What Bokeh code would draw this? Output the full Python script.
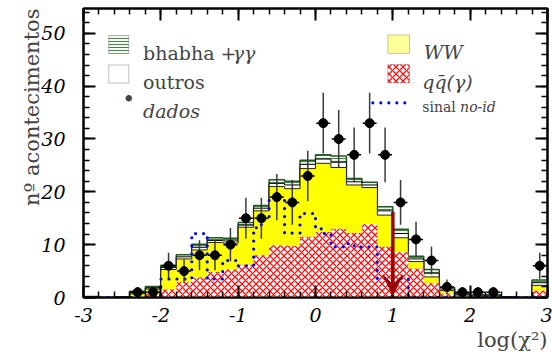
import numpy as np
from bokeh.plotting import figure
from bokeh.models import (Range1d, LinearAxis, FixedTicker, Label, Arrow, VeeHead,
                          CustomJSTickFormatter, BoxAnnotation, Title)
from bokeh.embed import file_html
from bokeh.resources import INLINE

# ---- data ----
centros = [-2.9, -2.7, -2.5, -2.3, -2.1, -1.9, -1.7, -1.5, -1.3, -1.1,
           -0.9, -0.7, -0.5, -0.3, -0.1, 0.1, 0.3, 0.5, 0.7, 0.9,
           1.1, 1.3, 1.5, 1.7, 1.9, 2.1, 2.3, 2.5, 2.7, 2.9]
largura = 0.2

qq = [0, 0, 0, 0.1, 0.6, 1.5, 2.9, 3.8, 4.85, 5.3,
      6.2, 8.0, 9.9, 9.8, 11.5, 12.4, 13.0, 12.2, 13.9, 9.6,
      8.6, 5.5, 2.7, 0.75, 0.1, 0, 0, 0, 0, 1.3]
ww = [0, 0, 0, 0.6, 1.0, 3.8, 4.4, 5.2, 5.55, 5.0,
      7.1, 8.4, 11.1, 10.8, 12.9, 13.0, 11.6, 9.1, 6.9, 6.0,
      2.7, 1.3, 1.2, 0.55, 0.2, 0.1, 0.1, 0, 0, 1.0]
outros = [0.1, 0, 0.1, 0.2, 0.2, 0.4, 0.4, 0.5, 0.4, 0.4,
          0.4, 0.5, 0.6, 0.7, 0.8, 0.8, 1.0, 0.6, 0.5, 0.8,
          0.8, 0.5, 0.7, 0.3, 0.3, 0.2, 0.2, 0.1, 0, 0.5]
bhabha = [0.1, 0, 0, 0.3, 0.3, 0.4, 0.4, 0.6, 0.5, 0.5,
          0.5, 0.5, 0.7, 0.7, 0.8, 0.8, 1.2, 0.6, 0.5, 0.8,
          0.8, 0.5, 0.7, 0.3, 0.3, 0.2, 0.2, 0, 0, 0.5]
dados = [0, 0, 0, 1, 1, 6, 5, 8, 8, 10,
         15, 15, 19, 18, 23, 33, 30, 27, 33, 27,
         18, 11, 7, 2, 1, 1, 1, 0, 0, 6]

# signal "no-id", finer binning (0.1)
sinal = [0, 0, 0, 0, 0, 0, 0, 0, 0, 0,
         3.5, 3.5, 3.5, 3.5, 12.1, 12.1, 3.5, 3.5, 7.0, 7.0,
         6.0, 6.0, 13.2, 14.8, 18.4, 18.4, 12.2, 12.2, 15.9, 15.9,
         13.0, 12.1, 9.6, 9.6, 10.2, 9.6, 9.6, 9.6, 3.6, 3.6,
         3.6, 3.6, 0, 0, 0, 0, 0, 0, 0, 0,
         0, 0, 0, 0, 0, 0, 0, 0, 0, 0]

corte = 1.0          # cut position (arrow)
corte_topo = 16.2

x_ticks = [-3, -2, -1, 0, 1, 2, 3]
y_ticks = [0, 10, 20, 30, 40, 50]

# ---- derived ----
edges = [round(c - largura / 2, 3) for c in centros] + [round(centros[-1] + largura / 2, 3)]
c1 = np.array(qq, dtype=float)
c2 = c1 + np.array(ww)
c3 = c2 + np.array(outros)
c4 = c3 + np.array(bhabha)

def ext(a):
    a = list(a)
    return a + [a[-1]]

sinal_edges = list(np.round(np.linspace(-3, 3, len(sinal) + 1), 3))

SERIF = "DejaVu Serif"
RED_HATCH = dict(hatch_pattern="diagonal_cross", hatch_color="#ff1010", hatch_scale=7, hatch_weight=1.3)
GREEN_HATCH = dict(hatch_pattern="horizontal_line", hatch_color="#4a804a", hatch_scale=3, hatch_weight=1)

p = figure(width=552, height=361, output_backend="svg", toolbar_location=None,
           x_range=Range1d(-3, 3), y_range=Range1d(0, 54.7),
           min_border_left=83, min_border_right=5, min_border_top=8, min_border_bottom=64,
           background_fill_color="white", border_fill_color="white")
p.xgrid.visible = False
p.ygrid.visible = False
p.outline_line_color = "black"
p.outline_line_width = 2

# stacked histograms (cumulative)
zeros = [0] * len(edges)
p.varea_step(x=edges, y1=zeros, y2=ext(c4), step_mode="after", fill_color="#eef3ee", **GREEN_HATCH)
p.step(x=edges, y=ext(c4), mode="after", line_color="#1f5a1f", line_width=1.5)
p.varea_step(x=edges, y1=zeros, y2=ext(c3), step_mode="after", fill_color="white")
p.step(x=edges, y=ext(c3), mode="after", line_color="black", line_width=1)
p.varea_step(x=edges, y1=zeros, y2=ext(c2), step_mode="after", fill_color="#ffff00")
p.step(x=edges, y=ext(c2), mode="after", line_color="#222222", line_width=1)
p.varea_step(x=edges, y1=zeros, y2=ext(c1), step_mode="after", fill_color="white", **RED_HATCH)

# signal
p.step(x=sinal_edges, y=ext(sinal), mode="after", line_color="#0000ff", line_width=3.2,
       line_dash="0 8", line_cap="round")

# data
xs = [c for c, d in zip(centros, dados) if d > 0]
ys = [d for d in dados if d > 0]
err = [np.sqrt(d) for d in ys]
p.segment(x0=xs, y0=[y - e for y, e in zip(ys, err)], x1=xs, y1=[y + e for y, e in zip(ys, err)],
          line_color="#3a3a3a", line_width=1.5)
p.segment(x0=[x - 0.45 * largura for x in xs], y0=ys, x1=[x + 0.45 * largura for x in xs], y1=ys,
          line_color="black", line_width=1.5)
p.scatter(x=xs, y=ys, size=9, color="black")

# cut arrow
p.add_layout(Arrow(end=VeeHead(size=20, fill_color="#9a0000", line_color="#9a0000"),
                   x_start=corte, y_start=corte_topo, x_end=corte, y_end=0.5,
                   line_color="#9a0000", line_width=3.5))

# axes
def style_axis(ax, ticks, minor, labels=True):
    ax.ticker = FixedTicker(ticks=ticks, minor_ticks=minor)
    ax.axis_line_width = 2
    ax.axis_line_color = "black"
    ax.major_tick_in = 12
    ax.major_tick_out = 0
    ax.minor_tick_in = 6
    ax.minor_tick_out = 0
    ax.major_tick_line_width = 2
    ax.minor_tick_line_width = 1.5
    if labels:
        ax.formatter = CustomJSTickFormatter(code="return tick.toFixed(0);")
        ax.major_label_text_font = SERIF
        ax.major_label_text_font_style = "italic"
        ax.major_label_text_font_size = "19px"
        ax.major_label_text_color = "black"
    else:
        ax.formatter = CustomJSTickFormatter(code="return '';")
        ax.major_label_standoff = 0
        ax.major_label_text_font_size = "0px"

x_minor = [round(-3 + 0.2 * i, 2) for i in range(31)]
y_minor = list(range(0, 55, 2))

style_axis(p.below[0], x_ticks, x_minor)
p.below[0].major_label_standoff = 10
style_axis(p.left[0], y_ticks, y_minor)
p.left[0].major_label_standoff = 18

top_ax = LinearAxis()
style_axis(top_ax, x_ticks, x_minor, labels=False)
p.add_layout(top_ax, "above")
right_ax = LinearAxis()
style_axis(right_ax, y_ticks, y_minor, labels=False)
p.add_layout(right_ax, "right")

# axis titles (as side titles so that they can be aligned like the reference)
x_title = Title(text="log(χ²)", align="right", text_font=SERIF, text_font_size="21px",
                text_font_style="normal", standoff=3)
p.add_layout(x_title, "below")
y_title = Title(text="nº acontecimentos", align="right", text_font=SERIF, text_font_size="21px",
                text_font_style="normal", standoff=0, offset=0)
try:
    y_title.standoff = -10
except Exception:
    pass
p.add_layout(y_title, "left")
spacer = Title(text=" ", text_font_size="14px", standoff=0)
p.add_layout(spacer, "left")

# legend (left)
p.add_layout(BoxAnnotation(left=-2.674, right=-2.415, bottom=46.2, top=49.55,
                           fill_color="#eef3ee", line_color="#333333", line_width=1, **GREEN_HATCH))
p.add_layout(Label(x=-2.229, y=46.3, text="bhabha +", text_font=SERIF, text_font_size="19px",
                   text_baseline="alphabetic"))
p.add_layout(Label(x=-1.07, y=46.3, text="γγ", text_font=SERIF, text_font_style="italic",
                   text_font_size="19px", text_baseline="alphabetic"))
p.add_layout(BoxAnnotation(left=-2.674, right=-2.415, bottom=40.6, top=44.0,
                           fill_color="white", line_color="#333333", line_width=1))
p.add_layout(Label(x=-2.229, y=40.8, text="outros", text_font=SERIF, text_font_size="19px",
                   text_baseline="alphabetic"))
p.add_layout(Label(x=-2.415, y=37.5, text="•", text_font=SERIF, text_font_size="22px",
                   text_align="center", text_baseline="middle"))
p.add_layout(Label(x=-2.229, y=35.3, text="dados", text_font=SERIF, text_font_style="italic",
                   text_font_size="19px", text_baseline="alphabetic"))

# legend (right)
p.add_layout(BoxAnnotation(left=0.935, right=1.216, bottom=46.2, top=49.7,
                           fill_color="#ffff00", line_color="#444444", line_width=1))
p.add_layout(Label(x=1.401, y=46.4, text="WW", text_font=SERIF, text_font_style="italic",
                   text_font_size="19px", text_baseline="alphabetic"))
p.add_layout(BoxAnnotation(left=0.935, right=1.216, bottom=40.6, top=44.1,
                           fill_color="white", line_color="#444444", line_width=1, **RED_HATCH))
p.add_layout(Label(x=1.38, y=40.8, text="qq\u0304(γ)", text_font=SERIF, text_font_style="italic",
                   text_font_size="19px", text_baseline="alphabetic"))
p.add_layout(Arrow(end=None, x_start=0.741, y_start=36.85, x_end=1.173, y_end=36.85,
                   line_color="#0000ff", line_width=3.2, line_dash="0 8", line_cap="round"))
p.add_layout(Label(x=1.38, y=36.0, text="sinal", text_font=SERIF, text_font_size="14px",
                   text_baseline="alphabetic"))
p.add_layout(Label(x=1.87, y=36.0, text="no-id", text_font=SERIF, text_font_style="italic",
                   text_font_size="14px", text_baseline="alphabetic"))

open("out.html", "w").write(file_html(p, INLINE))
